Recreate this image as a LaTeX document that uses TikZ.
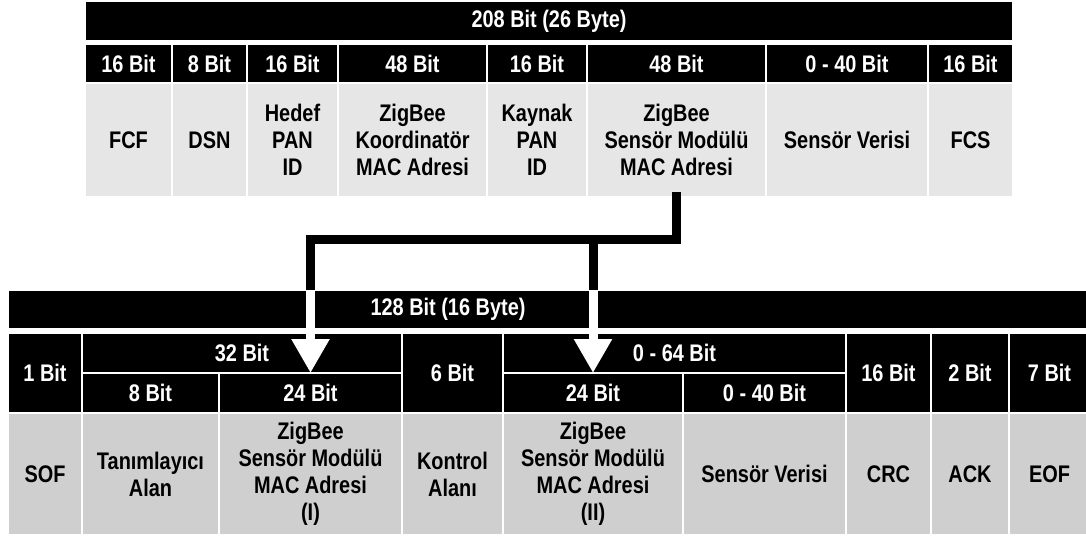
\documentclass[tikz,border=0pt]{standalone}
\usepackage{fontspec}
\setmainfont{Liberation Sans}[FakeStretch=0.83]
\usetikzlibrary{arrows.meta}
\definecolor{topgray}{HTML}{E6E6E6}
\definecolor{botgray}{HTML}{CFCFCF}
\tikzset{
  cell/.style={rectangle, draw=white, line width=1.5pt, inner sep=0pt, outer sep=0pt,
    align=center, font=\fontsize{24}{27}\selectfont\bfseries},
  hdr/.style={cell, fill=black, text=white},
  topfld/.style={cell, fill=topgray},
  botfld/.style={cell, fill=botgray},
  link/.style={line width=9pt, line cap=butt},
  drop/.style={white, line width=9pt, -{Triangle[width=36pt,length=34pt]}}
}
\begin{document}
\begin{tikzpicture}[x=1pt, y=-1pt]
  \useasboundingbox (0,0) rectangle (1086,538);

  % ZigBee frame
  \node[hdr, minimum width=928pt, minimum height=39pt] (zbar) at (549,21) {208 Bit (26 Byte)};
  \node[hdr, minimum width=87pt, minimum height=39pt] (fcfbit) at (128.5,63.5) {16 Bit};
  \node[hdr, minimum width=75pt, minimum height=39pt] (dsnbit) at (209.5,63.5) {8 Bit};
  \node[hdr, minimum width=91pt, minimum height=39pt] (dpanbit) at (292.5,63.5) {16 Bit};
  \node[hdr, minimum width=149pt, minimum height=39pt] (cmacbit) at (412.5,63.5) {48 Bit};
  \node[hdr, minimum width=100pt, minimum height=39pt] (spanbit) at (537,63.5) {16 Bit};
  \node[hdr, minimum width=179pt, minimum height=39pt] (smacbit) at (676.5,63.5) {48 Bit};
  \node[hdr, minimum width=162pt, minimum height=39pt] (zdatabit) at (847,63.5) {0 - 40 Bit};
  \node[hdr, minimum width=85pt, minimum height=39pt] (fcsbit) at (970.5,63.5) {16 Bit};

  \node[topfld, minimum width=87pt, minimum height=114pt] (fcf) at (128.5,140) {FCF};
  \node[topfld, minimum width=75pt, minimum height=114pt] (dsn) at (209.5,140) {DSN};
  \node[topfld, minimum width=91pt, minimum height=114pt] (dpan) at (292.5,140) {Hedef\\PAN\\ID};
  \node[topfld, minimum width=149pt, minimum height=114pt] (cmac) at (412.5,140) {ZigBee\\Koordinatör\\MAC Adresi};
  \node[topfld, minimum width=100pt, minimum height=114pt] (span) at (537,140) {Kaynak\\PAN\\ID};
  \node[topfld, minimum width=179pt, minimum height=114pt] (smac) at (676.5,140) {ZigBee\\Sensör Modülü\\MAC Adresi};
  \node[topfld, minimum width=162pt, minimum height=114pt] (zdata) at (847,140) {Sensör Verisi};
  \node[topfld, minimum width=85pt, minimum height=114pt] (fcs) at (970.5,140) {FCS};

  % sensor frame
  \node[hdr, minimum width=1082pt, minimum height=39pt] (bbar) at (549,309.5) {};
  \node[font=\fontsize{24}{27}\selectfont\bfseries, text=white] (btitle) at (448,309.5) {128 Bit (16 Byte)};

  \node[hdr, minimum width=74pt, minimum height=80pt] (sofbit) at (45,373) {1 Bit};
  \node[hdr, minimum width=320pt, minimum height=40pt] (g32) at (242,353) {32 Bit};
  \node[hdr, minimum width=137pt, minimum height=40pt] (idbit) at (150.5,393) {8 Bit};
  \node[hdr, minimum width=183pt, minimum height=40pt] (m1bit) at (310.5,393) {24 Bit};
  \node[hdr, minimum width=101pt, minimum height=80pt] (ctlbit) at (452.5,373) {6 Bit};
  \node[hdr, minimum width=343pt, minimum height=40pt] (g64) at (674.5,353) {0 - 64 Bit};
  \node[hdr, minimum width=180pt, minimum height=40pt] (m2bit) at (593,393) {24 Bit};
  \node[hdr, minimum width=163pt, minimum height=40pt] (databit) at (764.5,393) {0 - 40 Bit};
  \node[hdr, minimum width=85pt, minimum height=80pt] (crcbit) at (888.5,373) {16 Bit};
  \node[hdr, minimum width=78pt, minimum height=80pt] (ackbit) at (970,373) {2 Bit};
  \node[hdr, minimum width=81pt, minimum height=80pt] (eofbit) at (1049.5,373) {7 Bit};

  \node[botfld, minimum width=74pt, minimum height=122pt] (sof) at (45,474) {SOF};
  \node[botfld, minimum width=137pt, minimum height=122pt] (ida) at (150.5,474) {Tanımlayıcı\\Alan};
  \node[botfld, minimum width=183pt, minimum height=122pt] (mac1) at (310.5,474) {ZigBee\\Sensör Modülü\\MAC Adresi\\(I)};
  \node[botfld, minimum width=101pt, minimum height=122pt] (ctl) at (452.5,474) {Kontrol\\Alanı};
  \node[botfld, minimum width=180pt, minimum height=122pt] (mac2) at (593,474) {ZigBee\\Sensör Modülü\\MAC Adresi\\(II)};
  \node[botfld, minimum width=163pt, minimum height=122pt] (data) at (764.5,474) {Sensör Verisi};
  \node[botfld, minimum width=85pt, minimum height=122pt] (crc) at (888.5,474) {CRC};
  \node[botfld, minimum width=78pt, minimum height=122pt] (ack) at (970,474) {ACK};
  \node[botfld, minimum width=81pt, minimum height=122pt] (eof) at (1049.5,474) {EOF};

  % MAC address split into two parts
  \coordinate (split) at (0,239);
  \draw[link] ([yshift=5pt]smac.south) -- (smac.south |- split) -| (m1bit.north |- bbar.north);
  \draw[link] (m2bit.north |- split) -- (m2bit.north |- bbar.north);
  \draw[drop] (m1bit.north |- bbar.north) -- (m1bit.north);
  \draw[drop] (m2bit.north |- bbar.north) -- (m2bit.north);
\end{tikzpicture}
\end{document}
